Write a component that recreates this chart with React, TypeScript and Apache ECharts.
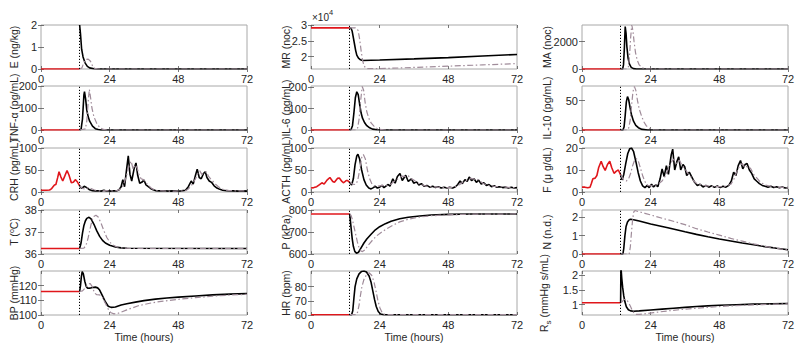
import React, { useEffect, useRef } from "react";
import * as echarts from "echarts";

// ---------- shared ----------
const X_TICKS = [0, 24, 48, 72];
const T_LPS = 13.5;

// ---------- E (ng/kg) ----------
const E_ticks = [0, 1, 2];
const E_red = [[0, 0], [13.5, 0]];
const E_sim = [[13.5, 2.0], [13.8, 1.6], [14.2, 0.9], [14.7, 0.55], [15.4, 0.28], [16.2, 0.12], [17, 0.05], [18.5, 0.01], [20, 0], [72, 0]];
const E_alt = [[13.5, 0], [14.3, 0.05], [15, 0.3], [15.7, 0.44], [16.5, 0.45], [17.3, 0.35], [18, 0.15], [18.8, 0.03], [20, 0], [72, 0]];

// ---------- TNF-alpha ----------
const TNF_ticks = [0, 100, 200];
const TNF_red = [[0, 0], [13.5, 0]];
const TNF_sim = [[13.5, 0], [14, 3], [14.5, 50], [15, 160], [15.2, 174], [15.6, 140], [16, 90], [16.5, 60], [17, 40], [18, 18], [19, 6], [20, 2], [21, 0], [72, 0]];
const TNF_alt = [[13.5, 0], [15.5, 5], [16, 40], [16.5, 130], [16.9, 185], [17.3, 150], [17.8, 100], [18.5, 60], [19.5, 30], [20.5, 12], [21.5, 4], [23, 0], [72, 0]];

// ---------- CRH ----------
const CRH_ticks = [0, 50, 100];
const CRH_red = [[0, 4], [1, 4], [2, 4], [3, 4.5], [3.6, 7], [4.2, 12], [4.7, 16], [5.2, 17], [5.8, 32], [6.3, 46], [6.9, 35], [7.6, 25], [8.3, 36], [9.1, 49], [9.8, 38], [10.6, 21], [11.3, 22], [12, 28], [12.6, 24], [13.5, 14]];
const CRH_sim = [[13.5, 14], [14.2, 8], [15.1, 13], [16, 10], [17, 5], [18, 3], [19, 2.5], [20, 3], [21, 2], [22, 4], [22.8, 2.5], [23.5, 3], [24.5, 2], [25.5, 3], [26.5, 2.5], [27.3, 5], [28, 12], [28.6, 28], [29.2, 12], [29.8, 45], [30.5, 82], [31.1, 40], [31.7, 25], [32.6, 55], [33.2, 66], [33.8, 38], [34.5, 20], [35.2, 22], [36, 27], [36.7, 16], [37.5, 12], [38.3, 8], [39.2, 5], [40.2, 3], [41.5, 2.5], [43, 3], [44.5, 2], [46, 2.5], [47.5, 2], [49, 2.5], [50.5, 4], [51.5, 12], [52.5, 25], [53.2, 18], [54, 38], [54.6, 52], [55.3, 33], [56, 30], [56.8, 42], [57.4, 46], [58, 33], [58.8, 25], [59.6, 22], [60.5, 14], [61.5, 9], [62.5, 6], [63.5, 4], [65, 3], [67, 2.5], [69, 2], [71, 2.5], [72, 2]];
const CRH_alt = [[13.5, 14], [14.5, 8], [15.5, 7], [16.5, 10], [17.5, 8], [18.5, 5], [19.5, 3], [21, 2.5], [23, 3], [25, 2.5], [26.5, 3], [27.5, 6], [28.5, 12], [29.3, 25], [30, 40], [30.8, 60], [31.5, 70], [32.2, 52], [32.9, 62], [33.6, 55], [34.3, 38], [35, 30], [35.8, 28], [36.6, 22], [37.5, 15], [38.5, 9], [39.5, 5], [41, 3], [43, 2.5], [45, 2], [47, 2], [49, 2.5], [50.5, 3], [51.5, 7], [52.5, 14], [53.3, 22], [54, 30], [54.8, 42], [55.5, 48], [56.2, 40], [57, 44], [57.8, 46], [58.5, 36], [59.3, 30], [60, 25], [61, 18], [62, 12], [63, 8], [64, 5], [65.5, 3.5], [67, 3], [69, 2.5], [72, 2.5]];

// ---------- T (deg C) ----------
const T_ticks = [36, 37, 38];
const T_red = [[0, 36.25], [13.5, 36.25]];
const T_sim = [[13.5, 36.25], [14, 36.5], [14.5, 36.95], [15, 37.3], [15.5, 37.5], [16, 37.62], [16.8, 37.67], [17.5, 37.6], [18.5, 37.35], [19.5, 37.05], [20.5, 36.8], [21.5, 36.62], [22.5, 36.5], [24, 36.4], [26, 36.32], [28, 36.28], [30, 36.26], [72, 36.25]];
const T_alt = [[13.5, 36.25], [15, 36.27], [15.5, 36.35], [16, 36.5], [16.5, 36.75], [17, 37.05], [17.5, 37.35], [18, 37.58], [18.6, 37.72], [19.2, 37.76], [20, 37.68], [21, 37.4], [22, 37.05], [23, 36.75], [24, 36.55], [25, 36.42], [26.5, 36.32], [28.5, 36.27], [31, 36.25], [72, 36.25]];

// ---------- BP (mmHg) ----------
const BP_ticks = [100, 110, 120];
const BP_red = [[0, 116], [13.5, 116]];
const BP_sim = [[13.5, 116], [13.8, 120], [14.1, 126], [14.4, 129.5], [14.8, 128], [15.3, 123], [15.8, 119.5], [16.3, 118.2], [17, 118.3], [18, 118.8], [19, 119], [19.8, 118.5], [20.5, 117], [21.5, 113], [22.5, 109], [23.5, 106], [24.5, 105.2], [26, 105.5], [28, 106.8], [30, 107.7], [33, 108.8], [36, 109.8], [40, 110.8], [44, 111.6], [48, 112.2], [54, 113], [60, 113.7], [66, 114.2], [72, 114.6]];
const BP_alt = [[13.5, 116], [14.5, 116.5], [15.5, 118.5], [16.5, 121], [17.2, 121.5], [18, 119], [18.7, 115], [19.5, 113.8], [20.5, 113.7], [21.5, 112], [22.5, 108], [23.5, 104], [24.5, 101.5], [25.5, 100.8], [27, 101.2], [30, 103.5], [34, 106.3], [38, 108], [42, 109.3], [48, 110.7], [54, 111.8], [60, 112.8], [66, 113.6], [72, 114.1]];

// ---------- MR (noc) ----------
const MR_ticks = [20000, 25000, 30000];
const MR_red = [[0, 29100], [13.5, 29100]];
const MR_sim = [[13.5, 29100], [14, 29000], [14.4, 28000], [14.8, 26000], [15.2, 24000], [15.6, 22000], [16, 20500], [16.6, 19500], [17.3, 19000], [18, 18800], [24, 18950], [36, 19300], [48, 19700], [60, 20200], [72, 20700]];
const MR_alt = [[13.5, 29100], [15.5, 29100], [16, 28900], [16.5, 28200], [17, 25500], [17.5, 22000], [18, 19000], [18.5, 17200], [19, 16500], [19.8, 16200], [24, 16200], [36, 16600], [48, 17000], [60, 17400], [72, 17800]];

// ---------- IL-6 ----------
const IL6_ticks = [0, 100, 200];
const IL6_red = [[0, 0], [13.5, 0]];
const IL6_sim = [[13.5, 0], [14, 2], [14.5, 20], [15, 80], [15.5, 150], [16, 178], [16.5, 165], [17, 120], [17.5, 80], [18, 55], [18.7, 35], [19.5, 20], [20.5, 10], [21.5, 4], [23, 1], [25, 0], [72, 0]];
const IL6_alt = [[13.5, 0], [15.8, 0], [16.3, 10], [16.8, 50], [17.3, 130], [17.9, 203], [18.4, 185], [18.9, 130], [19.5, 85], [20.2, 55], [21, 33], [22, 18], [23, 8], [24, 3], [26, 0], [72, 0]];

// ---------- ACTH ----------
const ACTH_ticks = [0, 50, 100];
const ACTH_red = [[0, 9], [1, 10], [2, 12], [3, 17], [3.8, 21], [4.6, 18], [5.6, 27], [6.6, 33], [7.6, 24], [8.2, 22], [9.3, 31], [9.9, 32], [10.8, 24], [11.4, 21], [12.3, 26], [12.8, 26], [13.5, 22]];
const ACTH_sim = [[13.5, 22], [14.2, 16], [14.8, 30], [15.4, 62], [16, 82], [16.4, 86], [17, 75], [17.7, 50], [18.5, 28], [19.3, 16], [20.2, 9], [21, 7], [21.8, 10], [22.5, 13], [23.2, 9], [24, 11], [24.8, 15], [25.5, 10], [26.3, 14], [27, 17], [27.6, 13], [28.6, 30], [29.4, 20], [30.2, 35], [31.1, 42], [31.9, 26], [33.1, 38], [34, 24], [35.1, 30], [35.9, 20], [36.9, 23], [37.7, 16], [38.6, 19], [39.5, 13], [40.5, 15], [41.5, 11], [42.5, 13], [43.5, 10], [44.5, 12], [45.5, 9], [46.5, 11], [47.5, 9], [48.5, 11], [49.5, 9], [50.5, 12], [51.3, 17], [52.1, 25], [52.9, 19], [53.8, 28], [54.6, 24], [55.3, 34], [56.1, 26], [57, 30], [57.8, 22], [58.6, 27], [59.5, 18], [60.4, 21], [61.3, 15], [62.2, 17], [63.1, 12], [64, 14], [65, 11], [66, 12], [67, 10], [68, 11], [69, 9], [70, 11], [71, 9], [72, 10]];
const ACTH_alt = [[13.5, 22], [14.5, 18], [15.5, 17], [16.3, 25], [17, 50], [17.7, 78], [18.3, 85], [19, 75], [19.7, 50], [20.5, 30], [21.3, 18], [22.2, 14], [23, 13], [24, 14], [25, 15], [26, 14], [27, 15], [28, 18], [29, 24], [30, 28], [31, 33], [32, 36], [33, 35], [34, 37], [35, 30], [36, 27], [37, 22], [38, 18], [39, 16], [40, 14], [42, 12], [44, 11], [46, 10], [48, 10], [50, 11], [51, 13], [52, 17], [53, 22], [54, 25], [55, 28], [56, 31], [57, 29], [58, 30], [59, 25], [60, 20], [61, 17], [62, 15], [64, 13], [66, 12], [68, 11], [70, 10], [72, 10]];

// ---------- P (kPa) ----------
const P_ticks = [600, 700, 800];
const P_red = [[0, 782], [13.5, 782]];
const P_sim = [[13.5, 782], [13.7, 760], [14, 720], [14.4, 670], [14.8, 635], [15.3, 612], [15.9, 603], [16.6, 608], [17.5, 628], [18.5, 650], [19.5, 668], [21, 690], [22.5, 710], [24, 724], [26, 738], [28, 749], [31, 760], [34, 767], [38, 773], [42, 777], [48, 780], [56, 781.5], [72, 782]];
const P_alt = [[13.5, 782], [14, 775], [14.5, 755], [15, 725], [15.6, 690], [16.2, 655], [16.8, 628], [17.4, 614], [18, 611], [18.8, 618], [20, 640], [21.5, 663], [23, 683], [24.5, 698], [26.5, 715], [28.5, 730], [31, 746], [34, 758], [38, 768], [42, 774], [48, 778], [56, 781], [72, 782]];

// ---------- HR (bpm) ----------
const HR_ticks = [60, 70, 80];
const HR_red = [[0, 60.2], [13.5, 60.2]];
const HR_sim = [[13.5, 60.2], [14.2, 60.2], [14.6, 63], [15, 72], [15.4, 80], [16, 85.5], [16.8, 89], [17.6, 90.6], [18.5, 91], [19.4, 90.3], [20.3, 87.5], [21, 83], [21.6, 77], [22.2, 71], [22.8, 66], [23.5, 62.5], [24.3, 60.7], [25.5, 60.2], [72, 60.2]];
const HR_alt = [[13.5, 60.2], [15.8, 60.2], [16.3, 62], [16.8, 67], [17.3, 74], [17.8, 80], [18.5, 85], [19.3, 88], [20.3, 89.8], [21.2, 88], [22, 83.5], [22.7, 77], [23.4, 70], [24.1, 65], [24.8, 62], [25.5, 60.6], [26.5, 60.2], [72, 60.2]];

// ---------- MA (noc) ----------
const MA_ticks = [0, 2000];
const MA_red = [[0, 0], [13.5, 0]];
const MA_sim = [[13.5, 0], [14.2, 0], [14.5, 300], [14.8, 1500], [15.1, 3100], [15.4, 2600], [15.7, 1600], [16.1, 800], [16.6, 350], [17.2, 120], [18, 30], [19, 0], [72, 0]];
const MA_alt = [[13.5, 0], [15.8, 0], [16.2, 150], [16.6, 900], [17, 2300], [17.4, 3220], [17.8, 2800], [18.2, 2000], [18.7, 1200], [19.3, 650], [20, 300], [21, 100], [22, 20], [23, 0], [72, 0]];

// ---------- IL-10 ----------
const IL10_ticks = [0, 50];
const IL10_red = [[0, 0], [13.5, 0]];
const IL10_sim = [[13.5, 0], [14.3, 0], [14.7, 5], [15.1, 25], [15.5, 48], [15.9, 57], [16.3, 52], [16.8, 38], [17.3, 26], [18, 15], [18.8, 8], [19.7, 4], [21, 1], [23, 0], [72, 0]];
const IL10_alt = [[13.5, 0], [15.8, 0], [16.3, 3], [16.8, 15], [17.3, 40], [17.8, 65], [18.3, 74], [18.8, 68], [19.4, 50], [20, 36], [20.8, 24], [21.6, 14], [22.5, 7], [23.5, 3], [25, 0], [72, 0]];

// ---------- F (cortisol) ----------
const F_ticks = [0, 10, 20];
const F_red = [[0, 2.2], [1, 2.2], [2, 1.9], [2.8, 2.2], [3.3, 4], [3.8, 6], [4.6, 6.3], [5.2, 7.5], [5.8, 11], [6.7, 14], [7.4, 11.5], [8.1, 9.8], [8.9, 12.5], [9.7, 14], [10.4, 11], [11.2, 8.5], [12, 9.5], [12.7, 10], [13.5, 7.8]];
const F_sim = [[13.5, 7.8], [14, 5.5], [14.6, 8], [15.3, 13], [16, 17.5], [16.7, 19.7], [17.3, 20], [18, 18.5], [18.8, 14], [19.6, 9], [20.4, 5], [21.2, 2.8], [22, 2], [22.8, 3], [23.5, 2], [24.3, 3.5], [25, 2.3], [25.8, 3.2], [26.5, 2.4], [27.3, 6], [28, 10.5], [28.7, 7], [29.5, 12], [30.2, 8], [31.2, 17], [31.7, 19.5], [32.4, 10], [33.2, 14], [33.8, 16], [34.5, 10], [35.3, 12.5], [35.9, 11.5], [36.6, 7.5], [37.5, 9], [38.3, 7], [39.3, 4.5], [40.3, 3], [41.3, 3.5], [42.3, 2.3], [43.3, 3], [44.3, 2.2], [45.3, 2.8], [46.3, 2.1], [47.3, 2.7], [48.3, 2], [49.3, 2.6], [50.3, 2.2], [51.3, 3], [52.2, 5], [53, 9], [53.8, 7.5], [54.6, 12], [55.4, 14.3], [56.2, 10.5], [57, 12.5], [57.7, 13], [58.5, 10], [59.3, 8.5], [60.2, 6], [61, 5], [62, 3.8], [63, 3], [64, 2.6], [65, 2.2], [66, 2.6], [67, 2], [68, 2.4], [69, 1.9], [70, 2.3], [71, 1.8], [72, 2]];
const F_alt = [[13.5, 7.8], [14.5, 5.5], [15.5, 5], [16.3, 6], [17, 8.5], [17.7, 12], [18.4, 14.5], [19, 15.2], [19.7, 14], [20.5, 10.5], [21.3, 7], [22.1, 4.5], [23, 3], [24, 2.8], [25, 3], [26, 3.2], [27, 4], [28, 5], [29, 7], [30, 10], [31, 13], [32, 15], [33, 13], [34, 14.5], [35, 12], [36, 10.5], [37, 8.5], [38, 7], [39, 5], [40, 4], [42, 3], [44, 2.8], [46, 2.5], [48, 2.4], [50, 2.6], [52, 3.5], [53, 5.5], [54, 9], [55, 11.5], [56, 13], [57, 11], [58, 12], [59, 10.5], [60, 8], [61, 6.5], [62, 5], [63, 4], [64, 3.2], [66, 2.6], [68, 2.3], [70, 2.1], [72, 2]];

// ---------- N (n.d.) ----------
const N_ticks = [0, 1, 2];
const N_red = [[0, 0], [13.5, 0]];
const N_sim = [[13.5, 0], [14.3, 0], [14.6, 0.3], [15, 1.0], [15.4, 1.5], [15.9, 1.75], [16.5, 1.87], [17, 1.9], [18, 1.87], [20, 1.8], [22, 1.72], [24, 1.64], [26, 1.57], [28, 1.5], [30, 1.43], [33, 1.32], [36, 1.21], [40, 1.07], [44, 0.94], [48, 0.82], [52, 0.71], [56, 0.6], [60, 0.5], [64, 0.4], [68, 0.31], [72, 0.23]];
const N_alt = [[13.5, 0], [16.5, 0], [16.9, 0.4], [17.3, 1.2], [17.7, 1.9], [18.1, 2.3], [18.5, 2.37], [20, 2.3], [22, 2.22], [24, 2.13], [26, 2.04], [28, 1.95], [30, 1.87], [33, 1.74], [36, 1.6], [40, 1.38], [44, 1.2], [48, 1.03], [52, 0.85], [56, 0.7], [60, 0.55], [64, 0.42], [68, 0.31], [72, 0.22]];

// ---------- Rs ----------
const RS_ticks = [1, 1.5, 2];
const RS_red = [[0, 1.07], [13.5, 1.07]];
const RS_sim = [[13.5, 1.07], [13.6, 2.3], [13.9, 1.9], [14.2, 1.6], [14.6, 1.3], [15, 1.1], [15.5, 0.93], [16.2, 0.83], [17, 0.79], [18, 0.78], [20, 0.79], [24, 0.82], [28, 0.85], [32, 0.88], [36, 0.91], [40, 0.94], [44, 0.96], [48, 0.98], [54, 1.0], [60, 1.02], [66, 1.03], [72, 1.04]];
const RS_alt = [[13.5, 1.07], [14, 1.1], [14.6, 1.17], [15.2, 1.19], [15.8, 1.15], [16.4, 1.05], [17, 0.93], [17.6, 0.8], [18.3, 0.7], [19, 0.67], [20, 0.67], [22, 0.69], [25, 0.73], [30, 0.79], [35, 0.84], [40, 0.88], [45, 0.92], [50, 0.95], [56, 0.98], [62, 1.0], [67, 1.02], [72, 1.03]];

// ---------- styling / layout ----------
const FONT = "'Liberation Sans', Arial, Helvetica, sans-serif";
const RED = "#e0161b";
const GRAY = "#a08c9a";
const TXT = "#262626";
const FRAME = "#a8a8a8";
const COL_LEFT = [41, 311, 582];
const ROW_TOP = [25, 86, 148, 210, 271];
const PW = 206;
const PH = 44;
const NAME_GAP = [21.5, 19.5, 30];

const RICH = {
  n: { fontSize: 10.5, fontFamily: FONT, color: TXT },
  o: { fontSize: 7, fontFamily: FONT, color: TXT, verticalAlign: "top", lineHeight: 12 },
  s: { fontSize: 8, fontFamily: FONT, color: TXT, verticalAlign: "bottom", lineHeight: 17 },
};

type Panel = {
  col: number; row: number; name: string;
  red: number[][]; sim: number[][]; alt: number[][];
  min: number; max: number; ticks: number[]; fmt?: (v: number) => string;
};

const PANELS: Panel[] = [
  { col: 0, row: 0, name: "E (ng/kg)", red: E_red, sim: E_sim, alt: E_alt, min: 0, max: 2, ticks: E_ticks },
  { col: 0, row: 1, name: "TNF-α (pg/mL)", red: TNF_red, sim: TNF_sim, alt: TNF_alt, min: 0, max: 200, ticks: TNF_ticks },
  { col: 0, row: 2, name: "CRH (pg/mL)", red: CRH_red, sim: CRH_sim, alt: CRH_alt, min: 0, max: 100, ticks: CRH_ticks },
  { col: 0, row: 3, name: "{n|T (}{o|o}{n|C)}", red: T_red, sim: T_sim, alt: T_alt, min: 36, max: 38, ticks: T_ticks },
  { col: 0, row: 4, name: "BP (mmHg)", red: BP_red, sim: BP_sim, alt: BP_alt, min: 100, max: 130, ticks: BP_ticks },
  { col: 1, row: 0, name: "MR (noc)", red: MR_red, sim: MR_sim, alt: MR_alt, min: 16100, max: 30000, ticks: MR_ticks, fmt: (v) => String(v / 10000) },
  { col: 1, row: 1, name: "IL-6 (pg/mL)", red: IL6_red, sim: IL6_sim, alt: IL6_alt, min: 0, max: 205, ticks: IL6_ticks },
  { col: 1, row: 2, name: "ACTH (pg/mL)", red: ACTH_red, sim: ACTH_sim, alt: ACTH_alt, min: 0, max: 100, ticks: ACTH_ticks },
  { col: 1, row: 3, name: "P (kPa)", red: P_red, sim: P_sim, alt: P_alt, min: 600, max: 800, ticks: P_ticks },
  { col: 1, row: 4, name: "HR (bpm)", red: HR_red, sim: HR_sim, alt: HR_alt, min: 60, max: 91, ticks: HR_ticks },
  { col: 2, row: 0, name: "MA (noc)", red: MA_red, sim: MA_sim, alt: MA_alt, min: 0, max: 3220, ticks: MA_ticks },
  { col: 2, row: 1, name: "IL-10 (pg/mL)", red: IL10_red, sim: IL10_sim, alt: IL10_alt, min: 0, max: 75, ticks: IL10_ticks },
  { col: 2, row: 2, name: "F (μ g/dL)", red: F_red, sim: F_sim, alt: F_alt, min: 0, max: 20, ticks: F_ticks },
  { col: 2, row: 3, name: "N (n.d.)", red: N_red, sim: N_sim, alt: N_alt, min: 0, max: 2.4, ticks: N_ticks },
  { col: 2, row: 4, name: "{n|R}{s|s}{n| (mmHg s/mL)}", red: RS_red, sim: RS_sim, alt: RS_alt, min: 0.65, max: 2.15, ticks: RS_ticks },
];

function buildOption() {
  const grid: any[] = [];
  const xAxis: any[] = [];
  const yAxis: any[] = [];
  const series: any[] = [];
  const tickStyle = { color: "#555", width: 0.8 };

  PANELS.forEach((p, i) => {
    grid.push({
      left: COL_LEFT[p.col], top: ROW_TOP[p.row], width: PW, height: PH,
      show: true, borderColor: FRAME, borderWidth: 1, backgroundColor: "transparent",
    });
    const isBottom = p.row === 4;
    xAxis.push({
      type: "value", gridIndex: i, min: 0, max: 72, interval: 24, position: "bottom",
      axisLine: { show: false },
      axisTick: { inside: true, length: 3, lineStyle: tickStyle, customValues: X_TICKS },
      axisLabel: { fontSize: 11, color: TXT, fontFamily: FONT, margin: 4, customValues: X_TICKS },
      splitLine: { show: false },
      name: isBottom ? "Time (hours)" : "",
      nameLocation: "middle", nameGap: 16, nameMoveOverlap: false,
      nameTextStyle: { fontSize: 10.5, color: TXT, fontFamily: FONT },
    });
    xAxis.push({
      type: "value", gridIndex: i, min: 0, max: 72, interval: 24, position: "top",
      axisLine: { show: false },
      axisTick: { inside: true, length: 3, lineStyle: tickStyle, customValues: X_TICKS },
      axisLabel: { show: false },
      splitLine: { show: false },
    });
    const fmt = p.fmt || ((v: number) => String(v));
    yAxis.push({
      type: "value", gridIndex: i, min: p.min, max: p.max, position: "left",
      axisLine: { show: false },
      axisTick: { inside: true, length: 3, lineStyle: tickStyle, customValues: p.ticks },
      axisLabel: { fontSize: 11, color: TXT, fontFamily: FONT, margin: 4, customValues: p.ticks, formatter: fmt },
      splitLine: { show: false },
      name: p.name, nameLocation: "middle", nameGap: NAME_GAP[p.col], nameRotate: 90, nameMoveOverlap: false,
      nameTextStyle: { fontSize: 10.5, color: TXT, fontFamily: FONT, rich: RICH },
    });
    yAxis.push({
      type: "value", gridIndex: i, min: p.min, max: p.max, position: "right",
      axisLine: { show: false },
      axisTick: { inside: true, length: 3, lineStyle: tickStyle, customValues: p.ticks },
      axisLabel: { show: false },
      splitLine: { show: false },
    });
    const xi = 2 * i;
    const yi = 2 * i;
    series.push({
      type: "line", xAxisIndex: xi, yAxisIndex: yi, data: p.red, symbol: "none", showSymbol: false,
      lineStyle: { color: RED, width: 1.6 }, z: 3, clip: true,
    });
    series.push({
      type: "line", xAxisIndex: xi, yAxisIndex: yi, data: p.sim, symbol: "none", showSymbol: false,
      lineStyle: { color: "#000", width: 1.6 }, z: 3, clip: true,
      markLine: {
        silent: true, symbol: ["none", "none"], label: { show: false },
        lineStyle: { color: "#000", width: 1, type: [1.2, 1.8] },
        data: [{ xAxis: T_LPS }],
      },
    });
    series.push({
      type: "line", xAxisIndex: xi, yAxisIndex: yi, data: p.alt, symbol: "none", showSymbol: false,
      lineStyle: { color: GRAY, width: 1.2, type: [6, 2.5, 1.5, 2.5] }, z: 4, clip: true,
    });
  });

  return {
    animation: false,
    backgroundColor: "#fff",
    grid, xAxis, yAxis, series,
    graphic: [
      { type: "text", left: 312, top: 12, style: { text: "×10", fontSize: 10, fill: TXT, fontFamily: FONT } },
      { type: "text", left: 329, top: 8, style: { text: "4", fontSize: 7.5, fill: TXT, fontFamily: FONT } },
    ],
  };
}

export default function App() {
  const ref = useRef<HTMLDivElement>(null);
  useEffect(() => {
    if (!ref.current) return;
    const chart = echarts.init(ref.current, undefined, { renderer: "svg" });
    chart.setOption(buildOption() as any);
    return () => chart.dispose();
  }, []);
  return <div ref={ref} style={{ position: "absolute", left: 0, top: 0, width: 800, height: 354 }} />;
}
